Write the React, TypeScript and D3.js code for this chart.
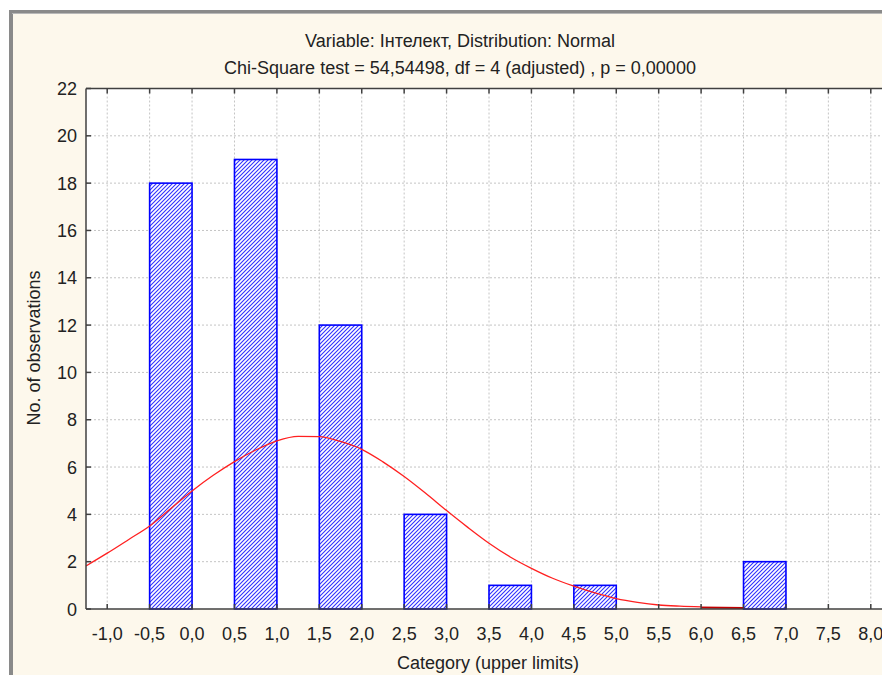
import React from "react";
import * as d3 from "d3";

// Histogram bins: lower and upper limits of each drawn bar, with counts
const binLower = [-0.5, 0.5, 1.5, 2.5, 3.5, 4.5, 6.5];
const binUpper = [0.0, 1.0, 2.0, 3.0, 4.0, 5.0, 7.0];
const counts = [18, 19, 12, 4, 1, 1, 2];

// Expected normal curve (scaled to observation counts)
const curveX = [-1.25, -1.0, -0.75, -0.5, -0.25, 0.0, 0.25, 0.5, 0.75, 1.0, 1.25, 1.5, 1.75, 2.0, 2.25, 2.5, 2.75, 3.0, 3.25, 3.5, 3.75, 4.0, 4.25, 4.5, 4.75, 5.0, 5.25, 5.5, 5.75, 6.0];
const curveY = [1.82, 2.36, 2.93, 3.51, 4.25, 4.99, 5.65, 6.23, 6.72, 7.11, 7.3, 7.29, 7.08, 6.75, 6.22, 5.6, 4.9, 4.16, 3.45, 2.78, 2.2, 1.72, 1.3, 0.97, 0.68, 0.44, 0.28, 0.17, 0.12, 0.09];
// Tail segment of the curve lying on the axis
const tailX = [6.0, 6.5];
const tailY = [0.06, 0.04];

const xTicks = [-1.0, -0.5, 0.0, 0.5, 1.0, 1.5, 2.0, 2.5, 3.0, 3.5, 4.0, 4.5, 5.0, 5.5, 6.0, 6.5, 7.0, 7.5, 8.0];
const yTicks = [0, 2, 4, 6, 8, 10, 12, 14, 16, 18, 20, 22];

const titleLine1 = "Variable: Інтелект, Distribution: Normal";
const titleLine2 = "Chi-Square test = 54,54498, df = 4 (adjusted) , p = 0,00000";
const xTitle = "Category (upper limits)";
const yTitle = "No. of observations";

const W = 882;
const H = 677;
const plot = { left: 86, top: 88.5, right: 892, bottom: 609 };

export default function App() {
  const x = d3.scaleLinear().domain([-1.25, 8.25]).range([plot.left, plot.right]);
  const y = d3.scaleLinear().domain([0, 22]).range([plot.bottom, plot.top]);
  const fmt = (v: number) => d3.format(".1f")(v).replace(".", ",").replace("−", "-");

  const line = d3
    .line<[number, number]>()
    .x((d) => x(d[0]))
    .y((d) => y(d[1]))
    .curve(d3.curveMonotoneX);
  const curvePts: [number, number][] = curveX.map((v, i) => [v, curveY[i]]);
  const tailPts: [number, number][] = tailX.map((v, i) => [v, tailY[i]]);

  const font = "'Liberation Sans', Arial, sans-serif";
  const axisColor = "#404040";
  const textColor = "#222222";

  return (
    <svg
      width={W}
      height={H}
      style={{ position: "absolute", left: 0, top: 0, display: "block" }}
      fontFamily={font}
    >
      <defs>
        <pattern id="hatch" patternUnits="userSpaceOnUse" width={4} height={4}>
          <rect width={4} height={4} fill="#ffffff" />
          <path d="M-1,1 l2,-2 M0,4 l4,-4 M3,5 l2,-2" stroke="#3030ff" strokeWidth={1.1} />
        </pattern>
        <clipPath id="plotClip">
          <rect x={plot.left} y={plot.top} width={plot.right - plot.left} height={plot.bottom - plot.top} />
        </clipPath>
      </defs>

      <rect x={0} y={0} width={W} height={H} fill="#ffffff" />
      {/* window frame */}
      <rect x={11} y={12} width={W} height={663} fill="#fdf8ec" />
      <rect x={9} y={10} width={4} height={665} fill="#8a8a8a" />
      <rect x={9} y={10} width={W} height={4} fill="#8a8a8a" />
      <rect x={12} y={13} width={W} height={1} fill="#b8b8b8" />

      {/* titles */}
      <text x={460} y={47} textAnchor="middle" fontSize={18} fill={textColor}>
        {titleLine1}
      </text>
      <text x={460} y={74} textAnchor="middle" fontSize={18} fill={textColor}>
        {titleLine2}
      </text>

      {/* plot background */}
      <rect x={plot.left} y={plot.top} width={plot.right - plot.left} height={plot.bottom - plot.top} fill="#ffffff" />

      {/* grid */}
      <g stroke="#c4c4c4" strokeWidth={1} strokeDasharray="2,2">
        {xTicks.map((t) => (
          <line key={"gx" + t} x1={x(t)} x2={x(t)} y1={plot.top} y2={plot.bottom} />
        ))}
        {yTicks
          .filter((t) => t > 0 && t < 22)
          .map((t) => (
            <line key={"gy" + t} x1={plot.left} x2={plot.right} y1={y(t)} y2={y(t)} />
          ))}
      </g>

      {/* bars */}
      <g>
        {counts.map((c, i) => (
          <rect
            key={"b" + i}
            x={x(binLower[i])}
            y={y(c)}
            width={x(binUpper[i]) - x(binLower[i])}
            height={y(0) - y(c)}
            fill="url(#hatch)"
            stroke="#0000ff"
            strokeWidth={1.6}
          />
        ))}
      </g>

      {/* normal curve */}
      <g clipPath="url(#plotClip)">
        <path d={line(curvePts) || ""} fill="none" stroke="#ff2020" strokeWidth={1.3} />
      </g>
      <path d={d3.line<[number, number]>().x((d) => x(d[0])).y((d) => y(d[1]))(tailPts) || ""} fill="none" stroke="#c00000" strokeWidth={2} />

      {/* axes frame */}
      <g stroke={axisColor} strokeWidth={1.5}>
        <line x1={plot.left} x2={plot.right} y1={plot.bottom} y2={plot.bottom} />
        <line x1={plot.left} x2={plot.right} y1={plot.top} y2={plot.top} />
        <line x1={plot.left} x2={plot.left} y1={plot.top} y2={plot.bottom} />
        {xTicks.map((t) => (
          <g key={"tx" + t}>
            <line x1={x(t)} x2={x(t)} y1={plot.bottom} y2={plot.bottom - 5} />
            <line x1={x(t)} x2={x(t)} y1={plot.top} y2={plot.top + 5} />
          </g>
        ))}
        {yTicks.map((t) => (
          <line key={"ty" + t} x1={plot.left} x2={plot.left + 5} y1={y(t)} y2={y(t)} />
        ))}
      </g>

      {/* tick labels */}
      <g fontSize={18} fill={textColor}>
        {xTicks.map((t) => (
          <text key={"lx" + t} x={x(t)} y={640} textAnchor="middle">
            {fmt(t)}
          </text>
        ))}
        {yTicks.map((t) => (
          <text key={"ly" + t} x={77} y={y(t) + 6.5} textAnchor="end">
            {t}
          </text>
        ))}
      </g>

      {/* axis titles */}
      <text x={488} y={669} textAnchor="middle" fontSize={18} fill={textColor}>
        {xTitle}
      </text>
      <text
        transform={`translate(40,348) rotate(-90)`}
        textAnchor="middle"
        fontSize={18}
        fill={textColor}
      >
        {yTitle}
      </text>
    </svg>
  );
}
